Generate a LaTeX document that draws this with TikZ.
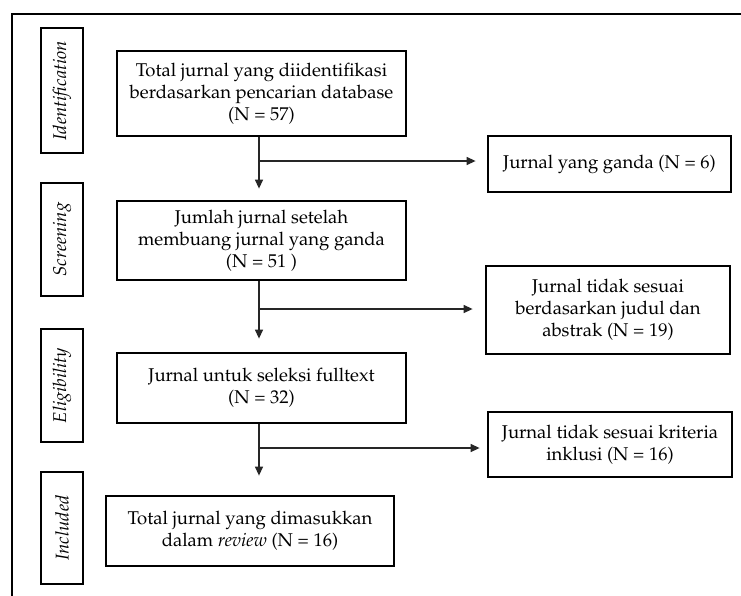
\documentclass[tikz,border=0pt]{standalone}
\usepackage[T1]{fontenc}
\usepackage{mathpazo}
\usetikzlibrary{arrows.meta,calc}
\tikzset{
  box/.style={draw=black, line width=2.8pt, fill=white, align=center, inner sep=0pt,
    font=\fontsize{18.5}{22}\selectfont},
  stage/.style={draw=black, line width=2.8pt, fill=white, inner sep=0pt,
    minimum width=42pt, font=\fontsize{18.5}{22}\selectfont\itshape},
  arr/.style={draw=black!85, line width=1.3pt, -{Triangle[width=8pt,length=9pt]}},
  frame/.style={draw=black, line width=2.8pt}
}
\begin{document}
\begin{tikzpicture}[x=1pt,y=-1pt]
\useasboundingbox (0,0) rectangle (741,595);
\clip (0,0) rectangle (741,595);
\fill[white] (0,0) rectangle (741,595);
\draw[frame] (760,14) -- (12,14) -- (12,610);

% stage labels
\node[stage, minimum height=125pt] (l1) at (62,90.5) {\rotatebox{90}{Identification}};
\node[stage, minimum height=113pt] (l2) at (62,239.5) {\rotatebox{90}{Screening}};
\node[stage, minimum height=113pt] (l3) at (62,385.5) {\rotatebox{90}{Eligibility}};
\node[stage, minimum height=112pt] (l4) at (62,528) {\rotatebox{90}{Included}};

% main boxes
\node[box, minimum width=289pt, minimum height=85pt] (b1) at (261.5,93.5)
  {Total jurnal yang diidentifikasi\\berdasarkan pencarian database\\(N = 57)};
\node[box, minimum width=289pt, minimum height=79pt] (b2) at (261.5,240.5)
  {Jumlah jurnal setelah\\membuang jurnal yang ganda\\(N = 51 )};
\node[box, minimum width=289pt, minimum height=70pt] (b3) at (261.5,388)
  {Jurnal untuk seleksi fulltext\\(N = 32)};
\node[box, minimum width=288pt, minimum height=70pt] (b4) at (250,531)
  {Total jurnal yang dimasukkan\\dalam \textit{review} (N = 16)};

% side boxes
\node[box, minimum width=243pt, minimum height=56pt] (s1) at (609.5,164)
  {Jurnal yang ganda (N = 6)};
\node[box, minimum width=244pt, minimum height=88pt] (s2) at (608,310)
  {Jurnal tidak sesuai\\berdasarkan judul dan\\abstrak (N = 19)};
\node[box, minimum width=244pt, minimum height=65pt] (s3) at (610,444.5)
  {Jurnal tidak sesuai kriteria\\inklusi (N = 16)};

% connectors
\coordinate (c1) at ($(b1.south)+(-2.5,0)$);
\coordinate (c2) at ($(b2.south)+(-2.5,0)$);
\coordinate (c3) at ($(b3.south)+(-2.5,0)$);
\draw[arr, shorten >=11pt] (c1) -- (c1 |- b2.north);
\draw[arr, shorten >=11pt] (c1 |- 0,161) -- (s1.west |- 0,161);
\draw[arr, shorten >=13pt] (c2) -- (c2 |- b3.north);
\draw[arr, shorten >=12pt] (c2 |- 0,309) -- (s2.west |- 0,309);
\draw[arr, shorten >=19pt] (c3) -- (c3 |- b4.north);
\draw[arr, shorten >=7pt] (c3 |- 0,448) -- (s3.west |- 0,448);
\end{tikzpicture}
\end{document}
